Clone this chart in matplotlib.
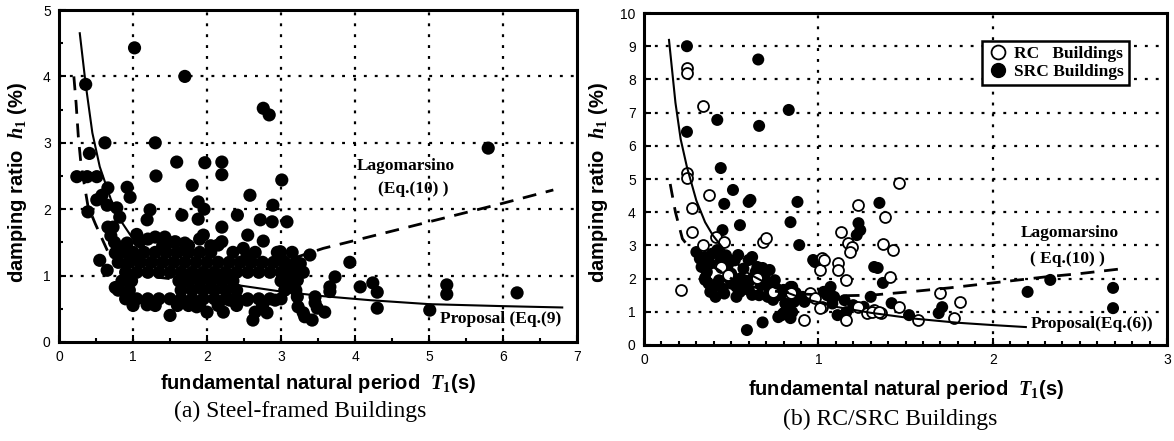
import matplotlib
matplotlib.use('Agg')
import matplotlib.pyplot as plt
from matplotlib.lines import Line2D

plt.rcParams['font.family'] = ['Liberation Sans', 'DejaVu Sans']
plt.rcParams['mathtext.fontset'] = 'custom'
plt.rcParams['mathtext.it'] = 'Liberation Serif:bold:italic'
plt.rcParams['mathtext.rm'] = 'Liberation Serif:bold'

# steel-framed buildings: period T1 (s), damping h1 (%)
steel_T = [1.02, 1.70, 0.36, 2.76, 2.84, 0.62, 1.30, 5.80, 0.41, 1.59, 1.97, 2.20, 2.20, 1.31,
           0.24, 0.38, 0.51, 3.01, 1.80, 0.92, 0.96, 0.66, 2.58, 0.58, 1.88, 0.51, 0.65, 0.78,
           1.96, 2.89, 0.39, 1.23, 1.19, 1.66, 2.41, 1.88, 2.72, 2.88, 3.08, 0.82, 0.66, 0.73,
           2.20, 1.95, 2.55, 2.76, 2.15, 2.20, 2.49, 2.54, 2.99, 3.01, 3.39, 3.26, 3.19, 0.92,
           1.09, 0.55, 0.65, 0.76, 1.50, 1.19, 1.86, 2.00, 2.22, 2.54, 2.62, 2.81, 2.31, 2.65,
           2.92, 3.30, 3.42, 3.46, 3.73, 3.93, 3.66, 3.66, 4.07, 4.24, 4.30, 4.30, 5.01, 5.24,
           5.24, 6.19, 3.22, 3.23, 3.32, 3.46, 3.49, 3.59, 3.03, 3.08, 3.12, 3.22, 1.30, 1.43,
           1.57, 1.70, 0.85, 0.92, 1.00, 0.76, 0.70, 0.75,
           # dense band around 1 %
           1.05, 1.20, 1.40, 1.55, 1.75, 1.90, 2.05,
           0.85, 1.00, 1.15, 1.30, 1.45, 1.60, 1.75, 1.90, 2.05, 2.35, 2.65, 2.95, 3.15,
           0.80, 0.95, 1.10, 1.25, 1.40, 1.55, 1.70, 1.85, 2.00, 2.15, 2.30, 2.45, 2.60, 2.75,
           2.90, 3.05, 3.20,
           0.90, 1.05, 1.20, 1.35, 1.50, 1.65, 1.80, 1.95, 2.10, 2.25, 2.40, 2.55, 2.70, 2.85,
           3.00, 3.15, 3.30,
           0.85, 0.98, 1.62, 1.75, 1.90, 2.05, 2.20, 2.35, 3.00, 3.15,
           0.80, 0.95, 1.65, 1.80, 1.95, 2.10, 2.25, 2.40, 3.05, 3.20,
           0.90, 1.05, 1.20, 1.35, 1.50, 1.65, 1.80, 1.95, 2.10, 2.25, 2.40, 2.55, 2.70, 2.85, 3.00,
           1.00, 1.30, 1.60, 1.75, 1.90, 2.15, 2.40, 2.75]
steel_h = [4.43, 4.00, 3.88, 3.52, 3.42, 3.00, 3.00, 2.92, 2.84, 2.71, 2.70, 2.71, 2.52, 2.50,
           2.49, 2.49, 2.49, 2.44, 2.36, 2.33, 2.18, 2.32, 2.21, 2.21, 2.11, 2.14, 2.06, 2.02,
           2.00, 2.06, 1.96, 1.99, 1.84, 1.91, 1.91, 1.85, 1.84, 1.81, 1.81, 1.88, 1.73, 1.73,
           1.73, 1.61, 1.61, 1.52, 1.46, 1.51, 1.41, 1.30, 1.36, 1.24, 1.31, 1.18, 1.11, 1.49,
           1.51, 1.23, 1.08, 0.82, 0.40, 0.56, 0.53, 0.45, 0.45, 0.63, 0.33, 0.44, 0.63, 0.45,
           0.63, 0.44, 0.33, 0.59, 0.98, 1.20, 0.83, 0.76, 0.83, 0.89, 0.75, 0.51, 0.48, 0.86,
           0.72, 0.74, 0.68, 0.53, 0.38, 0.68, 0.51, 0.45, 0.93, 0.83, 1.08, 0.93, 1.58, 1.58,
           1.51, 1.49, 1.43, 1.34, 1.27, 1.34, 1.60, 1.50,
           1.62, 1.55, 1.45, 1.50, 1.45, 1.55, 1.45,
           1.35, 1.35, 1.35, 1.35, 1.35, 1.35, 1.35, 1.35, 1.35, 1.35, 1.35, 1.35, 1.35,
           1.20, 1.20, 1.20, 1.20, 1.20, 1.20, 1.20, 1.20, 1.20, 1.20, 1.20, 1.20, 1.20, 1.20,
           1.20, 1.20, 1.20,
           1.05, 1.05, 1.05, 1.05, 1.05, 1.05, 1.05, 1.05, 1.05, 1.05, 1.05, 1.05, 1.05, 1.05,
           1.05, 1.05, 1.05,
           0.92, 0.92, 0.92, 0.92, 0.92, 0.92, 0.92, 0.92, 0.92, 0.92,
           0.78, 0.78, 0.78, 0.78, 0.78, 0.78, 0.78, 0.78, 0.78, 0.78,
           0.65, 0.65, 0.65, 0.65, 0.65, 0.65, 0.65, 0.65, 0.65, 0.65, 0.65, 0.65, 0.65, 0.65, 0.65,
           0.55, 0.55, 0.55, 0.55, 0.55, 0.55, 0.55, 0.55]

# steel: proposed curve (Eq.9) and Lagomarsino (Eq.10)
steel_prop_T = [0.28, 0.36, 0.45, 0.55, 0.70, 0.85, 1.03, 1.30, 1.60, 2.00, 2.45, 3.00, 3.57,
                4.20, 5.00, 6.00, 6.80]
steel_prop_h = [4.65, 3.88, 3.15, 2.64, 2.15, 1.80, 1.50, 1.30, 1.12, 0.98, 0.85, 0.76, 0.69,
                0.63, 0.57, 0.54, 0.52]
steel_lago_T = [0.20, 0.23, 0.26, 0.29, 0.33, 0.39, 0.49, 0.66, 0.85, 1.00, 1.30, 1.60, 2.00,
                2.50, 3.00, 3.57, 4.00, 5.00, 6.00, 6.68]
steel_lago_h = [4.00, 3.60, 3.10, 2.75, 2.45, 2.05, 1.78, 1.36, 1.15, 1.06, 0.98, 0.94, 0.94,
                1.04, 1.20, 1.41, 1.53, 1.81, 2.09, 2.29]

# RC buildings (open symbols)
rc_T = [0.246, 0.246, 0.34, 0.246, 0.246, 0.37, 1.46, 0.275, 0.275, 0.68, 0.70, 0.41, 0.46,
        0.34, 0.21, 0.44, 0.48, 0.65, 0.92, 0.84, 0.95, 0.98, 1.02, 1.01, 1.02, 0.74, 1.01,
        1.16, 1.11, 1.11, 1.16, 1.13, 1.17, 1.19, 1.18, 1.23, 1.23, 1.28, 1.32, 1.36, 1.38,
        1.37, 1.43, 1.41, 1.46, 1.31, 1.35, 1.57, 1.70, 1.81, 1.78, 1.03]
rc_h = [8.34, 8.20, 7.20, 5.18, 5.03, 4.52, 4.88, 4.12, 3.40, 3.10, 3.22, 3.25, 3.10,
        3.01, 1.66, 2.35, 2.10, 2.02, 0.75, 1.57, 1.57, 1.42, 2.62, 2.26, 1.14, 1.60, 1.11,
        0.75, 2.47, 2.26, 1.96, 3.40, 3.07, 2.95, 2.80, 4.22, 1.14, 0.96, 1.05, 0.96, 3.86,
        3.04, 2.86, 2.05, 1.14, 0.99, 0.99, 0.75, 1.57, 1.30, 0.81, 2.55]

# SRC buildings (filled symbols)
src_T = [0.246, 0.655, 0.42, 0.66, 0.83, 0.246, 0.44, 0.51, 0.61, 0.88, 0.46, 0.60, 0.84,
         0.55, 0.45, 0.89, 0.35, 0.41, 0.53, 0.59, 0.68, 0.80, 0.83, 0.77, 0.85, 0.98,
         0.30, 0.35, 0.42, 0.44, 0.54, 0.60, 0.62, 0.65, 0.68, 0.72, 0.35, 0.40, 0.57,
         0.53, 0.60, 0.62, 0.72, 0.74, 0.80, 0.84, 0.87, 0.89, 0.79, 0.82, 0.84, 0.85,
         0.97, 1.07, 1.09, 1.03, 1.11, 1.16, 1.23, 1.24, 1.22, 1.30, 1.32, 1.35, 1.34,
         1.37, 1.42, 1.52, 1.71, 1.69, 2.20, 2.33, 2.69, 2.69,
         0.32, 0.38, 0.36, 0.48, 0.50, 0.55, 0.58, 0.63, 0.67, 0.70, 0.77, 0.66, 0.55,
         0.45, 0.38, 0.43, 0.50, 0.92, 0.95, 1.05, 1.08, 1.15, 1.20, 1.26,
         0.33, 0.39, 0.47, 0.52, 0.57, 0.64, 0.69, 0.75, 0.79, 0.42, 0.49, 0.56, 0.61,
         0.71, 0.76, 0.86, 0.91, 0.81, 0.37, 0.46]
src_h = [9.00, 8.60, 6.78, 6.60, 7.08, 6.42, 5.33, 4.67, 4.37, 4.31, 4.25, 4.31, 3.70,
         3.61, 3.46, 3.01, 2.02, 1.45, 1.45, 0.45, 0.68, 0.96, 1.14, 0.84, 1.75, 2.50,
         2.80, 2.65, 2.86, 2.56, 2.71, 2.56, 2.65, 2.35, 2.32, 2.26, 1.96, 1.75, 1.96,
         1.75, 1.66, 1.51, 1.66, 1.36, 1.66, 1.75, 1.57, 1.42, 0.90, 1.14, 0.81, 0.99,
         2.56, 1.75, 1.45, 1.60, 0.90, 0.99, 3.67, 3.46, 3.31, 1.45, 2.35, 4.28, 2.32,
         1.87, 1.26, 0.90, 1.14, 0.96, 1.60, 1.96, 1.72, 1.11,
         2.60, 2.45, 2.20, 2.40, 2.15, 2.00, 1.85, 2.05, 1.80, 1.90, 1.50, 1.50, 1.60,
         1.70, 1.60, 1.95, 1.85, 1.30, 1.45, 1.50, 1.25, 1.35, 1.20, 1.15,
         2.35, 2.75, 2.70, 2.55, 2.30, 2.20, 2.10, 1.95, 1.55, 1.85, 2.00, 1.80, 1.95,
         1.45, 1.70, 1.30, 1.45, 1.25, 1.85, 1.55]

# RC/SRC: proposed curve (Eq.6) and Lagomarsino (Eq.10)
rc_prop_T = [0.143, 0.18, 0.21, 0.246, 0.30, 0.35, 0.395, 0.50, 0.60, 0.75, 0.90, 1.10, 1.30,
             1.54, 1.80, 2.00, 2.19]
rc_prop_h = [9.19, 7.30, 6.20, 5.36, 4.35, 3.70, 3.30, 2.60, 2.15, 1.72, 1.42, 1.15, 0.97,
             0.80, 0.67, 0.60, 0.54]
rc_lago_T = [0.15, 0.18, 0.22, 0.25, 0.30, 0.40, 0.50, 0.60, 0.75, 0.90, 1.10, 1.30, 1.52,
             1.75, 2.00, 2.30, 2.50, 2.73]
rc_lago_h = [4.85, 4.00, 3.20, 3.00, 2.75, 2.35, 2.00, 1.78, 1.62, 1.54, 1.48, 1.50, 1.60,
             1.72, 1.87, 2.05, 2.15, 2.29]

SERIF = ['Liberation Serif', 'DejaVu Serif']
GRID = dict(color='black', linestyle=(0, (1.3, 3.6)), linewidth=1.6, zorder=1)


def style_axes(ax, xmax, ymax, xminor, yminor):
    ax.set_xlim(0, xmax)
    ax.set_ylim(0, ymax)
    ax.set_xticks(range(0, xmax + 1))
    ax.set_yticks(range(0, ymax + 1))
    if xminor:
        ax.set_xticks([i * xminor for i in range(int(xmax / xminor) + 1)], minor=True)
    if yminor:
        ax.set_yticks([i * yminor for i in range(int(ymax / yminor) + 1)], minor=True)
    ax.tick_params(which='both', direction='in', width=1.5, labelsize=10, pad=6)
    ax.tick_params(which='major', length=5)
    ax.tick_params(which='minor', length=3)
    for sp in ax.spines.values():
        sp.set_linewidth(2.2)
    for x in range(1, xmax):
        ax.axvline(x, **GRID)
    for y in range(1, ymax):
        ax.axhline(y, **GRID)
    ax.set_xlabel('fundamental natural period  $\\mathit{T}_{\\mathit{1}}$(s)',
                  fontsize=14.5, fontweight='bold')
    ax.set_ylabel('damping ratio  $\\mathit{h}_{\\mathit{1}}$ (%)',
                  fontsize=14.5, fontweight='bold')


fig = plt.figure(figsize=(11.74, 4.41), dpi=100)
ax1 = fig.add_axes([0.0503, 0.2245, 0.4412, 0.7528])
ax2 = fig.add_axes([0.5486, 0.2177, 0.4455, 0.7528])

# (a) steel
style_axes(ax1, 7, 5, 0.5, 0.5)
ax1.scatter(steel_T, steel_h, s=90, c='black', edgecolors='none', zorder=3)
ax1.plot(steel_prop_T, steel_prop_h, color='black', lw=1.5, zorder=4)
ax1.plot(steel_lago_T, steel_lago_h, color='black', lw=2, dashes=(5, 3.5), zorder=4)
ax1.text(4.68, 2.65, 'Lagomarsino', family=SERIF, fontweight='bold', fontsize=12.5,
         ha='center', va='center')
ax1.text(4.78, 2.30, '(Eq.(10) )', family=SERIF, fontweight='bold', fontsize=12.5,
         ha='center', va='center')
ax1.text(5.15, 0.35, 'Proposal (Eq.(9)', family=SERIF, fontweight='bold', fontsize=12.5,
         ha='left', va='center')
ax1.yaxis.set_label_coords(-0.058, 0.48)
ax1.xaxis.set_label_coords(0.5, -0.09)

# (b) RC/SRC
style_axes(ax2, 3, 10, 0.1, None)
ax2.scatter(src_T, src_h, s=75, c='black', edgecolors='none', zorder=3)
ax2.scatter(rc_T, rc_h, s=62, facecolors='white', edgecolors='black', linewidths=1.3, zorder=3)
ax2.plot(rc_prop_T, rc_prop_h, color='black', lw=1.5, zorder=4)
ax2.plot(rc_lago_T, rc_lago_h, color='black', lw=2, dashes=(5, 3.5), zorder=4)
ax2.text(2.44, 3.37, 'Lagomarsino', family=SERIF, fontweight='bold', fontsize=12.5,
         ha='center', va='center')
ax2.text(2.43, 2.59, '( Eq.(10) )', family=SERIF, fontweight='bold', fontsize=12.5,
         ha='center', va='center')
ax2.text(2.22, 0.63, 'Proposal(Eq.(6))', family=SERIF, fontweight='bold', fontsize=12.5,
         ha='left', va='center')
ax2.yaxis.set_label_coords(-0.066, 0.49)
ax2.xaxis.set_label_coords(0.5, -0.1)

handles = [Line2D([], [], ls='none', marker='o', ms=10, mfc='white', mec='black', mew=1.3),
           Line2D([], [], ls='none', marker='o', ms=10, mfc='black', mec='black')]
leg = ax2.legend(handles, ['RC   Buildings', 'SRC Buildings'], loc='upper right',
                 bbox_to_anchor=(0.943, 0.943), prop={'family': SERIF, 'weight': 'bold',
                                                      'size': 12.5},
                 handletextpad=0.3, borderpad=0.3, labelspacing=0.1, handlelength=1.2,
                 fancybox=False, framealpha=1)
leg.get_frame().set_edgecolor('black')
leg.get_frame().set_linewidth(1.8)

fig.text(0.256, 0.068, '(a) Steel-framed Buildings', family=SERIF, fontsize=17,
         ha='center', va='center')
fig.text(0.758, 0.05, '(b) RC/SRC Buildings', family=SERIF, fontsize=17,
         ha='center', va='center')

fig.savefig('out.png', dpi=100)
